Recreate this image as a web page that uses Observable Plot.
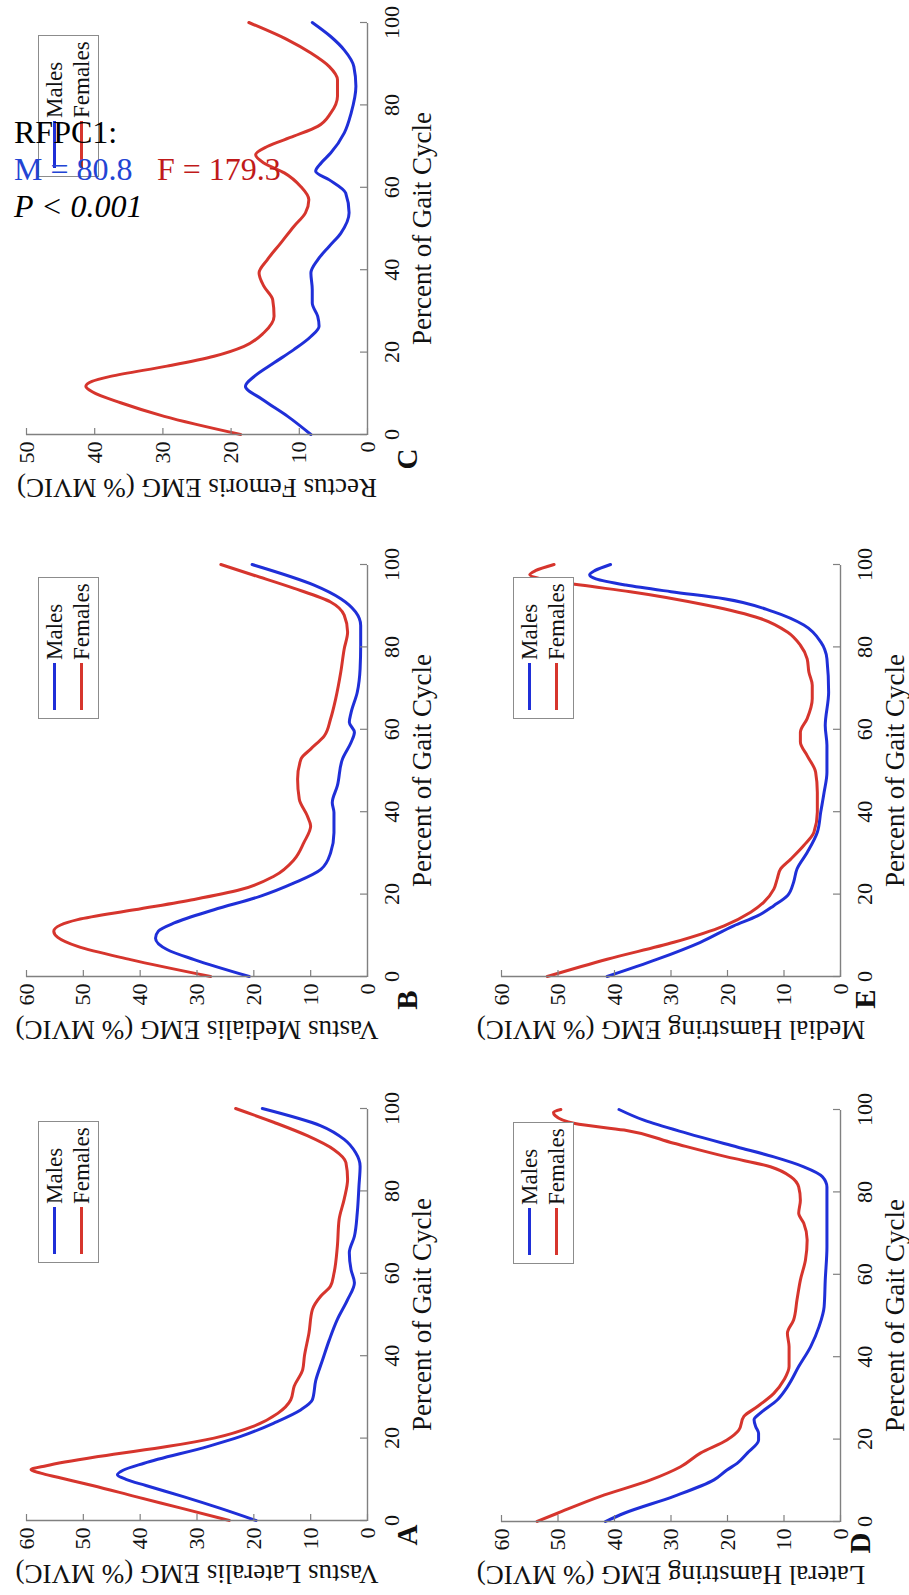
<!DOCTYPE html>
<html>
<head>
<meta charset="utf-8">
<script src="https://cdn.jsdelivr.net/npm/d3@7"></script>
<script src="https://cdn.jsdelivr.net/npm/@observablehq/plot@0.6"></script>
<style>
  html, body { margin: 0; padding: 0; background: #fff; overflow: hidden; }
  body { width: 909px; height: 1595px; position: relative; }
  #fig { position: absolute; left: 0; top: 0; width: 1595px; height: 909px;
         transform-origin: 0 0; transform: translateY(1595px) rotate(-90deg); }
  .panel { position: absolute; }
  .legend { position: absolute; width: 140px; height: 59px; background: #fff;
            border: 1px solid #8c8c8c; font-family: "Liberation Serif", "Times New Roman", serif;
            font-size: 23px; color: #111; }
  .legend .row { position: absolute; left: 0; height: 26px; width: 140px; }
  .legend .swatch { position: absolute; left: 8px; width: 47px; top: 11px; height: 3px; }
  .legend .lab { position: absolute; left: 58px; top: 0; line-height: 26px; }
  .letter { position: absolute; font-family: "Liberation Serif", "Times New Roman", serif;
            font-weight: bold; font-size: 29px; color: #111; transform: translate(-50%, -50%); line-height: 1; }
  #note { position: absolute; left: 14px; top: 114px; font-family: "Liberation Serif", "Times New Roman", serif;
          font-size: 32px; line-height: 37px; color: #000; white-space: pre; }
</style>
</head>
<body>
<div id="fig"></div>
<div id="note"></div>
<script>
// ---------- data ----------
const gaitTicks = [0, 20, 40, 60, 80, 100];
const emgTicks60 = [0, 10, 20, 30, 40, 50, 60];
const emgTicks50 = [0, 10, 20, 30, 40, 50];
const seriesNames = ["Males", "Females"];
const panelLetters = ["A", "B", "C", "D", "E"];
const muscleLabels = [
  "Vastus Lateralis EMG (% MVIC)",
  "Vastus Medialis EMG (% MVIC)",
  "Rectus Femoris EMG (% MVIC)",
  "Lateral Hamstring EMG (% MVIC)",
  "Medial Hamstring EMG (% MVIC)"
];
const xTitle = "Percent of Gait Cycle";
const noteTitle = "RFPC1:";
const noteMales = "M = 80.8";
const noteFemales = "F = 179.3";
const noteP = "P < 0.001";

// [percent of gait cycle, EMG % MVIC]
const vlMales = [[0,19.6],[3,26],[5.8,32.4],[8.5,39],[10,42.5],[11.1,44],[12.2,43],[13.9,39.3],[18,28],[20.4,22.3],[23.7,16.4],[26.9,11.7],[29.3,9.7],[34,9.1],[39,7.9],[43.9,6.7],[48.8,5.3],[53.6,3.5],[57.7,2.3],[60.9,2.9],[65,3.2],[69,2.3],[74.7,1.8],[81.2,1.5],[86,1.3],[89.3,2.1],[92.5,4.1],[95.8,8.2],[100,18.5]];
const vlFemales = [[0,24.3],[3,32.8],[5.8,40.8],[8.5,48.4],[10.5,54.5],[11.5,57.5],[12.3,59.2],[13.3,56.5],[15.6,47],[18,35],[20,27],[22.9,20],[26,15.8],[29.3,13.5],[32.6,12.9],[36.6,11.4],[39.9,11.1],[45.5,10.3],[51.2,9.7],[54.5,8.2],[56.9,6.5],[60,5.9],[66.6,5.3],[73,5.0],[78,4.1],[82.8,3.5],[86.9,3.8],[90,5.9],[93.4,10.6],[96.6,16.4],[100,23.2]];

const vmMales = [[0,20.8],[4.1,30.5],[6.5,35.2],[9.3,37.3],[11,36.8],[13,34],[16.2,27],[19.5,18.8],[22.7,12.9],[26,8.2],[30,6.5],[34.9,5.9],[39.8,5.9],[42.2,6.2],[46.3,5.3],[52.8,4.4],[56.8,2.9],[59.3,2.3],[61.7,3.2],[64,2.9],[69,1.8],[74.7,1.3],[80.4,1.2],[85.2,1.2],[88.5,2.1],[91.7,4.7],[95,9.4],[100,20.3]];
const vmFemales = [[0,27.6],[4.1,41.7],[7.3,51],[9.5,54.5],[11,55.2],[12.5,54],[13.8,51],[16.2,41],[18.7,30.5],[21.1,22.3],[24.4,16.4],[28.4,12.9],[32.5,11.2],[36.5,10],[39,10.6],[43,12],[47.9,12.3],[52.8,11.7],[55.2,10],[58.4,7.6],[62.5,6.5],[67.4,5.6],[73.9,4.7],[79.5,4.1],[83.6,3.5],[87.7,4.1],[90.9,6.5],[94.2,12.9],[97.4,20],[100,25.8]];

const rfMales = [[0,8.3],[4.4,11.7],[8.5,15.4],[11.7,17.9],[14.1,16.6],[17.4,13.7],[20.6,10.8],[23.8,8.3],[26.3,7.1],[28.7,7.3],[31.9,8.1],[35.2,8.1],[39.2,8.3],[42.4,7.3],[45.7,5.6],[48.9,3.9],[53.8,2.7],[58.6,3.2],[61.8,5.6],[63.9,7.6],[65.9,6.8],[68.3,5.4],[73.2,3.4],[78,2.4],[84.5,1.7],[89.3,2],[93.3,3.4],[96.6,5.4],[100,8.1]];
const rfFemales = [[0,18.6],[4.4,29.8],[7.7,36.2],[10.3,40.3],[11.7,41.3],[12.9,40.4],[14.1,37.7],[16.6,29.4],[19,22.5],[21.4,18.1],[24.7,15.2],[28.7,13.7],[32.7,13.9],[36,15.2],[39.2,15.9],[42.4,14.7],[46.5,12.7],[50.5,10.8],[53.8,9.1],[57,8.6],[60.2,9.8],[63.5,12.2],[65.9,15.2],[67.9,16.4],[69.9,14.7],[72.4,10.8],[74.8,7.3],[78,5.4],[82.1,4.4],[86.1,4.4],[89.3,5.6],[92.6,8.3],[95.8,11.7],[100,17.4]];

const lhMales = [[0,41.6],[2,38.3],[6.1,29.5],[10.1,22.4],[12.5,20.1],[14.1,18.3],[16.6,16.5],[19.8,14.5],[21.4,14.5],[23,15],[24.7,15.3],[26.3,14.2],[29.5,11.2],[32.7,9.4],[37.6,7.4],[42.4,5.3],[47.3,3.8],[52.1,2.9],[58.6,2.7],[66.7,2.4],[74.8,2.4],[81.2,2.4],[83.7,3.2],[86.1,6.5],[88.5,11.8],[90.9,18.3],[94.2,27.1],[97.4,34.8],[100,39.2]];
const lhFemales = [[0,53.7],[2,50.1],[6.1,42.5],[10.1,33.6],[13.3,28.3],[16.6,24.8],[19.8,20.1],[22.2,18],[25.5,17.1],[27.9,14.7],[31.1,11.8],[34.4,10],[37.6,9.1],[42.4,9.1],[45.7,9.4],[48.9,8.3],[53.8,7.7],[58.6,7.1],[63.5,6.2],[68.3,5.9],[72.4,6.5],[74.8,7.4],[78,7.1],[81.2,7.4],[83.7,8.8],[86.1,12.4],[88.5,20.1],[91.8,29.5],[95,38.3],[96.6,47],[98.5,50.5],[99.3,50.8],[100,49.5]];

const mhMales = [[0,41.3],[4.2,32.4],[8.3,24.8],[12.3,18.9],[14.7,14.7],[17.2,11.8],[19.6,9.4],[22.9,8.3],[26.1,7.7],[30.1,5.9],[35,4.1],[39.9,3.5],[44.7,2.9],[49.6,2.4],[56.1,2.4],[60.9,2.7],[69,2.1],[77.1,2.4],[81.2,3.5],[85.3,6.5],[88.5,11.8],[91.7,20.6],[93.4,30],[95,38],[96.5,43.3],[97.5,44.4],[98.5,43.5],[100,40.7]];
const mhFemales = [[0,51.9],[4.2,41.3],[8.3,29.5],[12.3,20.6],[15.6,15.9],[18,13.6],[21.2,11.8],[23.7,11.2],[26.1,10.6],[28.5,8.8],[31.8,6.5],[35,4.7],[39.9,4.1],[44.7,4.1],[49.6,4.4],[53.6,5.9],[56.9,7.1],[59.3,7.1],[62.6,5.9],[67.4,5],[70.7,5],[73.9,5.6],[77.1,5.9],[80.4,7.1],[83.6,9.4],[86.9,14.2],[90.1,23.6],[93.4,37.2],[95,46],[96.5,53],[97.5,55],[98.5,54],[100,50.7]];

// ---------- drawing ----------
const SERIF = '"Liberation Serif", "Times New Roman", Times, serif';
const BLUE = "#1f2fd8";
const RED = "#d6352d";
const AXIS = "#808080";

const seriesByPanel = [
  [vlMales, vlFemales], [vmMales, vmFemales], [rfMales, rfFemales],
  [lhMales, lhFemales], [mhMales, mhFemales]
];
const yTicksByPanel = [emgTicks60, emgTicks60, emgTicks50, emgTicks60, emgTicks60];

// layout in the unrotated frame (1595 x 909)
const ML = 74, MT = 26, MR = 20, MB = 70, PW = 412;
const layout = [
  {left: 0,    top: 0,   ph: 341, letter: [60, 407]},
  {left: 544,  top: 0,   ph: 341, letter: [595, 407]},
  {left: 1086, top: 0,   ph: 341, letter: [1136, 407]},
  {left: -1,   top: 475, ph: 339, letter: [52, 860]},
  {left: 544,  top: 475, ph: 339, letter: [596, 865]}
];

const fig = document.getElementById("fig");

seriesByPanel.forEach(([males, females], i) => {
  const L = layout[i];
  const yt = yTicksByPanel[i];
  const H = L.ph;
  const chart = Plot.plot({
    width: ML + PW + MR,
    height: MT + H + MB,
    marginLeft: ML, marginRight: MR, marginTop: MT, marginBottom: MB,
    style: {fontFamily: SERIF, color: "#111", background: "transparent", overflow: "visible", maxWidth: "none"},
    x: {domain: [0, 100]},
    y: {domain: [0, yt[yt.length - 1]]},
    marks: [
      Plot.line(males, {x: d => d[0], y: d => d[1], stroke: BLUE, strokeWidth: 3, curve: "monotone-x"}),
      Plot.line(females, {x: d => d[0], y: d => d[1], stroke: RED, strokeWidth: 3, curve: "monotone-x"}),
      Plot.ruleX([0], {stroke: AXIS, strokeWidth: 1.4}),
      Plot.ruleY([0], {stroke: AXIS, strokeWidth: 1.4}),
      Plot.tickX(gaitTicks, {x: d => d, insetTop: H - 7, stroke: AXIS, strokeWidth: 1.2}),
      Plot.tickY(yt, {y: d => d, insetRight: PW - 7, stroke: AXIS, strokeWidth: 1.2}),
      Plot.axisX({ticks: gaitTicks, tickSize: 0, tickPadding: 16, fontSize: 22, label: null}),
      Plot.axisY({ticks: yt, tickSize: 0, tickPadding: 7, fontSize: 22, label: null}),
      Plot.text([xTitle], {frameAnchor: "bottom", dy: 55, fontSize: 27, textAnchor: "middle", lineAnchor: "middle"}),
      Plot.text([muscleLabels[i]], {frameAnchor: "left", dx: -53, rotate: -90, fontSize: 27, textAnchor: "middle", lineAnchor: "middle"})
    ]
  });
  const wrap = document.createElement("div");
  wrap.className = "panel";
  wrap.style.left = L.left + "px";
  wrap.style.top = L.top + "px";
  wrap.style.width = (ML + PW + MR) + "px";
  wrap.style.height = (MT + H + MB) + "px";
  wrap.appendChild(chart);
  fig.appendChild(wrap);

  // legend box (upper right of the axes)
  const lg = document.createElement("div");
  lg.className = "legend";
  lg.style.left = (L.left + ML + 258) + "px";
  lg.style.top = (L.top + MT + 12) + "px";
  [BLUE, RED].forEach((c, k) => {
    const row = document.createElement("div");
    row.className = "row";
    row.style.top = (3 + 27 * k) + "px";
    const sw = document.createElement("div");
    sw.className = "swatch";
    sw.style.background = c;
    const lab = document.createElement("div");
    lab.className = "lab";
    lab.textContent = seriesNames[k];
    row.appendChild(sw); row.appendChild(lab);
    lg.appendChild(row);
  });
  fig.appendChild(lg);

  const let_ = document.createElement("div");
  let_.className = "letter";
  let_.style.left = L.letter[0] + "px";
  let_.style.top = L.letter[1] + "px";
  let_.textContent = panelLetters[i];
  fig.appendChild(let_);
});

// upright annotation over panel C
const note = document.getElementById("note");
note.innerHTML = "";
const l1 = document.createElement("div"); l1.textContent = noteTitle;
const l2 = document.createElement("div");
const m = document.createElement("span"); m.textContent = noteMales; m.style.color = "#2244d4";
m.style.display = "inline-block"; m.style.width = "143px";
const f = document.createElement("span"); f.textContent = noteFemales; f.style.color = "#c01a1a";
l2.appendChild(m); l2.appendChild(f);
const l3 = document.createElement("div"); l3.textContent = noteP; l3.style.fontStyle = "italic";
note.appendChild(l1); note.appendChild(l2); note.appendChild(l3);
</script>
</body>
</html>
